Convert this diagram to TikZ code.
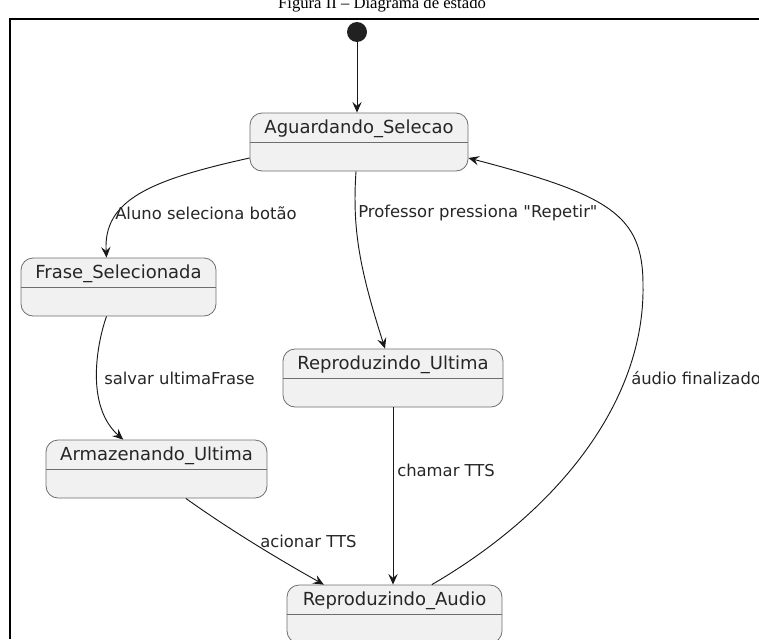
\documentclass[tikz,border=0pt]{standalone}
\usepackage{fontspec}
\setmainfont{DejaVu Sans}[Ligatures=TeXOff]
\newfontfamily\capfont{Liberation Serif}
\usetikzlibrary{arrows.meta}
\definecolor{stfill}{RGB}{241,241,241}
\definecolor{stline}{RGB}{110,110,110}
\definecolor{edgecol}{RGB}{24,24,24}

\begin{document}
\begin{tikzpicture}[x=0.75pt,y=0.75pt,yscale=-1,xscale=1,
  state/.style={draw=stline, fill=stfill, line width=0.6pt, rounded corners=9pt, inner sep=0pt, minimum height=43.5pt},
  stname/.style={font=\fontsize{13.5}{16}\selectfont, text=black!85, inner sep=0pt},
  edge/.style={draw=edgecol, line width=0.7pt, -{Stealth[length=8pt,width=7pt,inset=3pt]}},
  elabel/.style={font=\fontsize{12.3}{15}\selectfont, text=black!85, anchor=west, inner sep=0pt}]
\useasboundingbox (0,0) rectangle (759,639);
% caption and frame
\node[font=\capfont\fontsize{12.5}{14}\selectfont, anchor=base, inner sep=0pt] (cap) at (382,8) {Figura II – Diagrama de estado};
\draw[line width=1.1pt] (759,19) -- (10,19) -- (10,639);
% states
\node[circle, fill=black!87, minimum size=15pt, inner sep=0pt] (init) at (357,32) {};
\node[state, minimum width=163.5pt] (ag) at (359,142) {};
\node[state, minimum width=146.25pt] (fs) at (118.5,287) {};
\node[state, minimum width=165pt] (ru) at (393,378) {};
\node[state, minimum width=165.75pt] (am) at (156.5,469) {};
\node[state, minimum width=161.25pt] (ra) at (394.5,614) {};
\foreach \s in {ag,fs,ru,am,ra}
  \draw[stline, line width=0.6pt] ([yshift=22.5pt]\s.north west) -- ([yshift=22.5pt]\s.north east);
\node[stname] (ag-t) at ([yshift=12pt]ag.north) {Aguardando\_Selecao};
\node[stname] (fs-t) at ([yshift=12pt]fs.north) {Frase\_Selecionada};
\node[stname] (ru-t) at ([yshift=12pt]ru.north) {Reproduzindo\_Ultima};
\node[stname] (am-t) at ([yshift=12pt]am.north) {Armazenando\_Ultima};
\node[stname] (ra-t) at ([yshift=12pt]ra.north) {Reproduzindo\_Audio};
% transitions
\draw[edge] (init) -- (init |- ag.north);
\draw[edge] ([yshift=12pt]ag.west) .. controls (150,180) and (103,200) .. ([xshift=-9pt]fs.north);
\draw[edge] ([xshift=-2.25pt]ag.south) .. controls (352,230) and (360,270) .. ([xshift=-6pt]ru.north);
\draw[edge] ([xshift=-9pt]fs.south) .. controls (98,340) and (84,405) .. ([xshift=-25pt]am.north);
\draw[edge] (ru.south) -- (ru.south |- ra.north);
\draw[edge] ([xshift=22pt]am.south) .. controls (230,530) and (280,560) .. ([xshift=-53pt]ra.north);
\draw[edge] ([xshift=28pt]ra.north) .. controls (560,510) and (645,400) .. (643,285) .. controls (643,215) and (610,195) .. ([yshift=12pt]ag.east);
% labels
\node[elabel] (lb-aluno) at (115,213) {Aluno seleciona botão};
\node[elabel] (lb-prof) at (358,213) {Professor pressiona "Repetir"};
\node[elabel] (lb-salvar) at (104,378) {salvar ultimaFrase};
\node[elabel] (lb-chamar) at (397,470) {chamar TTS};
\node[elabel] (lb-acionar) at (260,541) {acionar TTS};
\node[elabel] (lb-audio) at (631,378) {áudio finalizado};
\end{tikzpicture}
\end{document}
